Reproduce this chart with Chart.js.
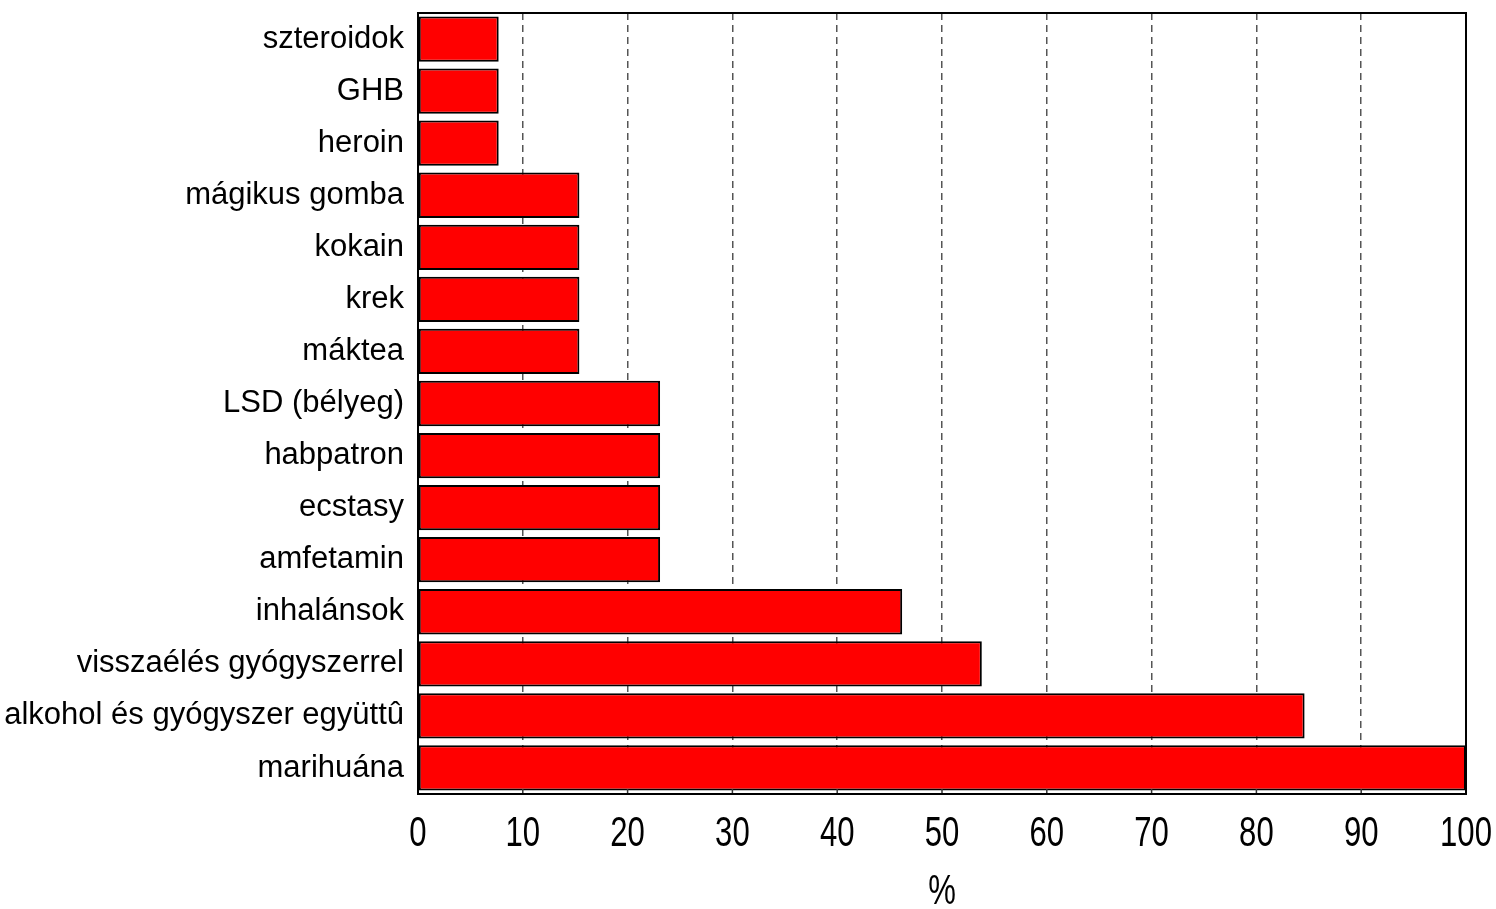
<!DOCTYPE html>
<html>
<head>
<meta charset="utf-8">
<script src="https://cdn.jsdelivr.net/npm/chart.js@4.4.0/dist/chart.umd.min.js"></script>
<style>
  html, body { margin: 0; padding: 0; background: #fff; }
  #wrap { width: 1496px; height: 909px; }
</style>
</head>
<body>
<div id="wrap"><canvas id="myChart"></canvas></div>
<script>
// kategóriák és értékek (%)
const categories = [
  'szteroidok', 'GHB', 'heroin', 'mágikus gomba', 'kokain', 'krek', 'máktea',
  'LSD (bélyeg)', 'habpatron', 'ecstasy', 'amfetamin', 'inhalánsok',
  'visszaélés gyógyszerrel', 'alkohol és gyógyszer együttû', 'marihuána'
];
const values = [7.7, 7.7, 7.7, 15.4, 15.4, 15.4, 15.4, 23.1, 23.1, 23.1, 23.1, 46.2, 53.8, 84.6, 100];
const xTicks = [0, 10, 20, 30, 40, 50, 60, 70, 80, 90, 100];
const xTitle = '%';

// keret, belső osztásjelek és keskenyített x feliratok
const framePlugin = {
  id: 'frame',
  afterDatasetsDraw(chart) {
    const { ctx, chartArea: a, scales } = chart;
    ctx.save();
    ctx.strokeStyle = '#333';
    ctx.lineWidth = 1.5;
    ctx.setLineDash([]);
    ctx.beginPath();
    for (const t of xTicks) {
      const x = scales.x.getPixelForValue(t);
      ctx.moveTo(x, a.bottom);
      ctx.lineTo(x, a.bottom - 5);
    }
    ctx.stroke();
    ctx.strokeStyle = '#000';
    ctx.lineWidth = 2;
    ctx.strokeRect(a.left, a.top, a.right - a.left, a.bottom - a.top);
    ctx.restore();
  },
  afterDraw(chart) {
    const { ctx, chartArea: a, scales } = chart;
    ctx.save();
    ctx.fillStyle = '#000';
    ctx.font = "42px 'Liberation Sans', Arial, sans-serif";
    ctx.textAlign = 'center';
    ctx.textBaseline = 'middle';
    const draw = (txt, x, y) => {
      ctx.save();
      ctx.translate(x, y);
      ctx.scale(0.74, 1);
      ctx.fillText(txt, 0, 0);
      ctx.restore();
    };
    for (const t of xTicks) {
      draw(String(t), scales.x.getPixelForValue(t), a.bottom + 40);
    }
    draw(xTitle, (a.left + a.right) / 2, a.bottom + 98);
    ctx.restore();
  }
};

const ctx = document.getElementById('myChart');
const chart = new Chart(ctx, {
  type: 'bar',
  data: {
    labels: categories,
    datasets: [{
      data: values,
      backgroundColor: '#ff0000',
      borderColor: '#000',
      borderWidth: 2,
      borderSkipped: false,
      barPercentage: 0.87,
      categoryPercentage: 1.0
    }]
  },
  options: {
    indexAxis: 'y',
    responsive: true,
    maintainAspectRatio: false,
    animation: false,
    layout: { padding: { top: 0, right: 30, left: 0, bottom: 0 } },
    plugins: {
      legend: { display: false },
      tooltip: { enabled: false }
    },
    scales: {
      x: {
        min: 0,
        max: 100,
        afterBuildTicks: (axis) => { axis.ticks = xTicks.map(v => ({ value: v })); },
        afterFit: (axis) => { axis.height = 115; },
        grid: {
          color: '#555',
          lineWidth: 1.5,
          drawTicks: false
        },
        border: { display: false, dash: [7, 5] },
        ticks: { display: false }
      },
      y: {
        afterFit: (axis) => {
          axis.width = 418;
          axis.paddingTop = 13;
          axis.paddingBottom = 0;
        },
        grid: { display: false, drawTicks: false },
        border: { display: false },
        ticks: {
          color: '#000',
          padding: 14,
          autoSkip: false,
          font: { family: "'Liberation Sans', Arial, sans-serif", size: 31 }
        }
      }
    }
  },
  plugins: [framePlugin]
});
</script>
</body>
</html>
